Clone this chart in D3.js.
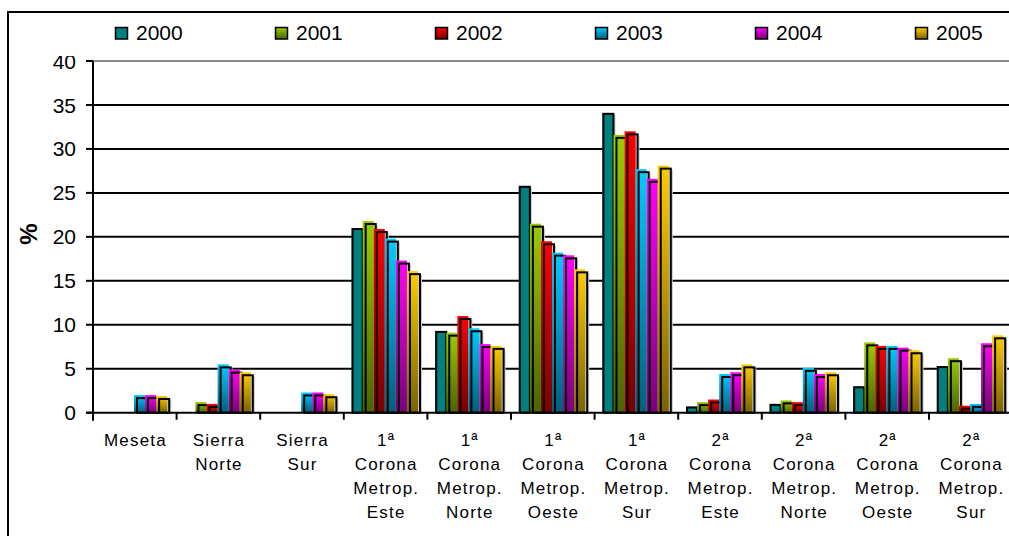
<!DOCTYPE html>
<html>
<head>
<meta charset="utf-8">
<script src="https://cdn.jsdelivr.net/npm/d3@7"></script>
<style>
  html, body { margin: 0; padding: 0; background: #fff; }
  svg { display: block; font-family: "Liberation Sans", Arial, sans-serif; }
</style>
</head>
<body>
<svg id="chart" width="1009" height="536"></svg>
<script>
// Zones and yearly shares (%)
const categories = [
  "Meseta", "Sierra Norte", "Sierra Sur",
  "1ª Corona Metrop. Este", "1ª Corona Metrop. Norte",
  "1ª Corona Metrop. Oeste", "1ª Corona Metrop. Sur",
  "2ª Corona Metrop. Este", "2ª Corona Metrop. Norte",
  "2ª Corona Metrop. Oeste", "2ª Corona Metrop. Sur"
];
const years = ["2000", "2001", "2002", "2003", "2004", "2005"];

const v2000 = [0, 0, 0, 21.0, 9.3, 25.8, 34.1, 0.7, 1.0, 3.0, 5.3];
const v2001 = [0, 1.2, 0, 21.8, 9.1, 21.5, 31.6, 1.2, 1.4, 8.0, 6.2];
const v2002 = [0, 1.0, 0, 20.9, 11.0, 19.5, 32.0, 1.5, 1.2, 7.6, 0.8];
const v2003 = [2.0, 5.5, 2.3, 19.8, 9.6, 18.2, 27.7, 4.4, 5.1, 7.6, 1.0];
const v2004 = [2.0, 4.9, 2.3, 17.3, 7.8, 17.9, 26.6, 4.6, 4.4, 7.4, 7.9];
const v2005 = [1.9, 4.6, 2.1, 16.1, 7.6, 16.3, 28.1, 5.5, 4.6, 7.1, 8.8];
const series = [v2000, v2001, v2002, v2003, v2004, v2005];

const yTicks = [0, 5, 10, 15, 20, 25, 30, 35, 40];

// top / bottom colours of each year's gradient
const colorTop = ["#008080", "#99CC00", "#FF0000", "#00CCFF", "#FF00FF", "#FFCC00"];
const colorBot = ["#008080", "#4A6300", "#780000", "#005F7A", "#7A007A", "#7A6200"];

const svg = d3.select("#chart");
const defs = svg.append("defs");
years.forEach((yr, i) => {
  const g = defs.append("linearGradient")
    .attr("id", "grad" + i).attr("x1", 0).attr("y1", 0).attr("x2", 0).attr("y2", 1);
  g.append("stop").attr("offset", "0%").attr("stop-color", colorTop[i]);
  g.append("stop").attr("offset", "100%").attr("stop-color", colorBot[i]);
});

// outer frame
svg.append("rect").attr("x", 8).attr("y", 12).attr("width", 1020).attr("height", 540)
  .attr("fill", "#fff").attr("stroke", "#000").attr("stroke-width", 2);

const left = 93, bandW = 83.6;
const x0 = d3.scaleBand().domain(categories).range([left, left + bandW * categories.length]);
const x1 = d3.scaleBand().domain(d3.range(years.length)).range([7.8, 7.8 + 66.4]);
const y = d3.scaleLinear().domain([0, 40]).range([412.7, 61]);

// gridlines
svg.append("g").selectAll("line").data(yTicks.filter(t => t > 0)).join("line")
  .attr("x1", left).attr("x2", 1009)
  .attr("y1", d => y(d)).attr("y2", d => y(d))
  .attr("stroke", d => d === 40 ? "#8c8c8c" : "#000").attr("stroke-width", 2);

// bars
const groups = svg.append("g").selectAll("g").data(categories).join("g")
  .attr("transform", d => `translate(${x0(d)},0)`);

groups.each(function (cat, ci) {
  const g = d3.select(this);
  series.forEach((vals, si) => {
    const v = vals[ci];
    if (!v) return;
    const bx = x1(si), bw = x1.bandwidth();
    const top = y(v), base = y(0);
    const off = si === 0 ? 0 : 2;
    g.append("rect").attr("x", bx + off + 2).attr("y", top + off + 2)
      .attr("width", bw).attr("height", Math.max(0, base - top - off - 2))
      .attr("fill", "#c8c8c8");
    g.append("rect").attr("x", bx).attr("y", top)
      .attr("width", bw).attr("height", base - top)
      .attr("fill", `url(#grad${si})`);
    g.append("rect").attr("x", bx + off + 1).attr("y", top + off + 1)
      .attr("width", bw - 1).attr("height", Math.max(0, base - top - off - 1))
      .attr("fill", "none").attr("stroke", "#000").attr("stroke-width", 2);
  });
});

// y axis
const yAxis = svg.append("g");
yAxis.append("line").attr("x1", left).attr("x2", left).attr("y1", y(40)).attr("y2", y(0) + 8)
  .attr("stroke", "#000").attr("stroke-width", 2);
yAxis.selectAll("line.tick").data(yTicks).join("line").attr("class", "tick")
  .attr("x1", left - 7).attr("x2", left).attr("y1", d => y(d)).attr("y2", d => y(d))
  .attr("stroke", "#000").attr("stroke-width", 2);
yAxis.selectAll("text").data(yTicks).join("text")
  .attr("x", 76).attr("y", d => y(d)).attr("dy", "0.36em")
  .attr("text-anchor", "end").attr("font-size", 21).attr("fill", "#000")
  .text(d => d);

svg.append("text").attr("transform", "translate(37,234) rotate(-90)")
  .attr("text-anchor", "middle").attr("font-size", 24).attr("font-weight", "bold")
  .text("%");

// x axis
const xAxis = svg.append("g");
xAxis.append("line").attr("x1", left - 7).attr("x2", 1009).attr("y1", y(0)).attr("y2", y(0))
  .attr("stroke", "#000").attr("stroke-width", 2);
xAxis.selectAll("line.tick").data(categories).join("line").attr("class", "tick")
  .attr("x1", d => x0(d)).attr("x2", d => x0(d)).attr("y1", y(0)).attr("y2", y(0) + 7)
  .attr("stroke", "#000").attr("stroke-width", 2);
xAxis.selectAll("line.tick2").data(categories.slice(-1)).join("line").attr("class", "tick2")
  .attr("x1", d => x0(d) + bandW).attr("x2", d => x0(d) + bandW).attr("y1", y(0)).attr("y2", y(0) + 7)
  .attr("stroke", "#000").attr("stroke-width", 2);

const lab = xAxis.selectAll("text").data(categories).join("text")
  .attr("text-anchor", "middle").attr("font-size", 17).attr("letter-spacing", 1.2)
  .attr("fill", "#000");
lab.each(function (d) {
  const t = d3.select(this);
  const cx = x0(d) + bandW / 2 + 0.6;
  d.split(" ").forEach((w, k) => {
    t.append("tspan").attr("x", cx).attr("y", 446 + k * 24).text(w);
  });
});

// legend (its white box sits over the top of the plot)
const legend = svg.append("g");
legend.append("rect").attr("x", 10).attr("y", 13).attr("width", 999).attr("height", 43)
  .attr("fill", "#fff");
const li = legend.selectAll("g").data(years).join("g")
  .attr("transform", (d, i) => `translate(${115 + i * 160},27)`);
li.append("rect").attr("x", 0.5).attr("y", 0.5).attr("width", 12).attr("height", 11.5)
  .attr("fill", (d, i) => `url(#grad${i})`).attr("stroke", "#000").attr("stroke-width", 1.5);
li.append("text").attr("x", 21).attr("y", 13).attr("font-size", 21).attr("fill", "#000")
  .text(d => d);
</script>
</body>
</html>
